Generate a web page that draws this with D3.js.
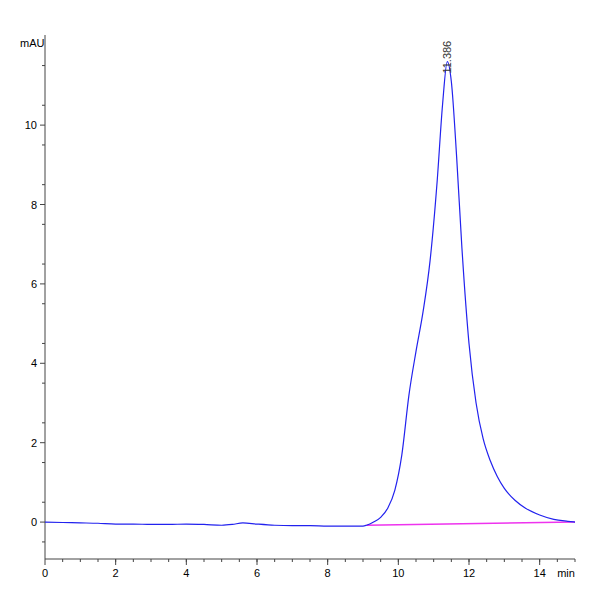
<!DOCTYPE html>
<html><head><meta charset="utf-8">
<script src="https://cdn.jsdelivr.net/npm/d3@7"></script>
<style>body{margin:0;background:#fff}</style>
</head><body><svg width="600" height="600"></svg>
<script>
var times = [0,0.5,1,1.5,2,2.5,3,3.5,4,4.5,5,5.3,5.6,6,6.5,7,7.5,8,8.5,9,9.1,9.3,9.5,9.7,9.9,10.1,10.3,10.5,10.7,10.9,11.1,11.25,11.386,11.5,11.65,11.8,12,12.2,12.4,12.6,12.8,13,13.3,13.6,14,14.4,14.8,15];
var signal = [0,-0.01,-0.02,-0.03,-0.05,-0.05,-0.06,-0.06,-0.05,-0.06,-0.08,-0.06,-0.02,-0.05,-0.08,-0.09,-0.09,-0.1,-0.1,-0.1,-0.08,0.0,0.12,0.35,0.8,1.7,3.2,4.3,5.3,6.6,8.6,10.5,11.6,11.1,9.2,6.9,4.5,3.0,2.1,1.55,1.15,0.85,0.55,0.35,0.18,0.07,0.02,0.0];
var baseT = [9.1,15];
var baseV = [-0.08,0.0];
var xTicks = [0,2,4,6,8,10,12,14];
var yTicks = [0,2,4,6,8,10];
var peakLabel = "11.386";

var svg = d3.select("svg");
var x = d3.scaleLinear().domain([0,15]).range([45,575]);
var y = d3.scaleLinear().domain([-0.93,12.27]).range([559,35]);

var font = "Liberation Sans Narrow, Arial Narrow, sans-serif";
// axes
svg.append("line").attr("x1",45).attr("x2",45).attr("y1",35).attr("y2",559).attr("stroke","#444");
svg.append("line").attr("x1",45).attr("x2",575).attr("y1",559).attr("y2",559).attr("stroke","#444");
d3.range(-0.5,12.1,1).forEach(function(v){
  svg.append("line").attr("x1",42).attr("x2",45).attr("y1",y(v)).attr("y2",y(v)).attr("stroke","#444");
});
yTicks.forEach(function(v){
  svg.append("line").attr("x1",40).attr("x2",45).attr("y1",y(v)).attr("y2",y(v)).attr("stroke","#444");
  svg.append("text").attr("x",37).attr("y",y(v)+4).attr("text-anchor","end").attr("font-size",11).attr("font-family",font).text(v);
});
d3.range(0.5,15.01,0.5).forEach(function(v){
  svg.append("line").attr("x1",x(v)).attr("x2",x(v)).attr("y1",559).attr("y2",562).attr("stroke","#444");
});
xTicks.forEach(function(v){
  svg.append("line").attr("x1",x(v)).attr("x2",x(v)).attr("y1",559).attr("y2",565).attr("stroke","#444");
  svg.append("text").attr("x",x(v)).attr("y",577).attr("text-anchor","middle").attr("font-size",11).attr("font-family",font).text(v);
});
svg.append("text").attr("x",566).attr("y",577).attr("text-anchor","middle").attr("font-size",11).attr("font-family",font).text("min");
svg.append("text").attr("x",20).attr("y",47).attr("font-size",11).attr("font-family",font).text("mAU");

var line = d3.line().x(function(d){return x(d[0]);}).y(function(d){return y(d[1]);}).curve(d3.curveMonotoneX);
svg.append("path").attr("d",line(d3.zip(baseT,baseV))).attr("fill","none").attr("stroke","#ee33ee").attr("stroke-width",1.5);
svg.append("path").attr("d",line(d3.zip(times,signal))).attr("fill","none").attr("stroke","#2222ee").attr("stroke-width",1.2);
svg.append("text").attr("transform","translate("+(x(11.386)+4)+","+(y(11.6)+12)+") rotate(-90)")
  .attr("font-size",11).attr("font-family",font).attr("fill","#333").text(peakLabel);
</script></body></html>
